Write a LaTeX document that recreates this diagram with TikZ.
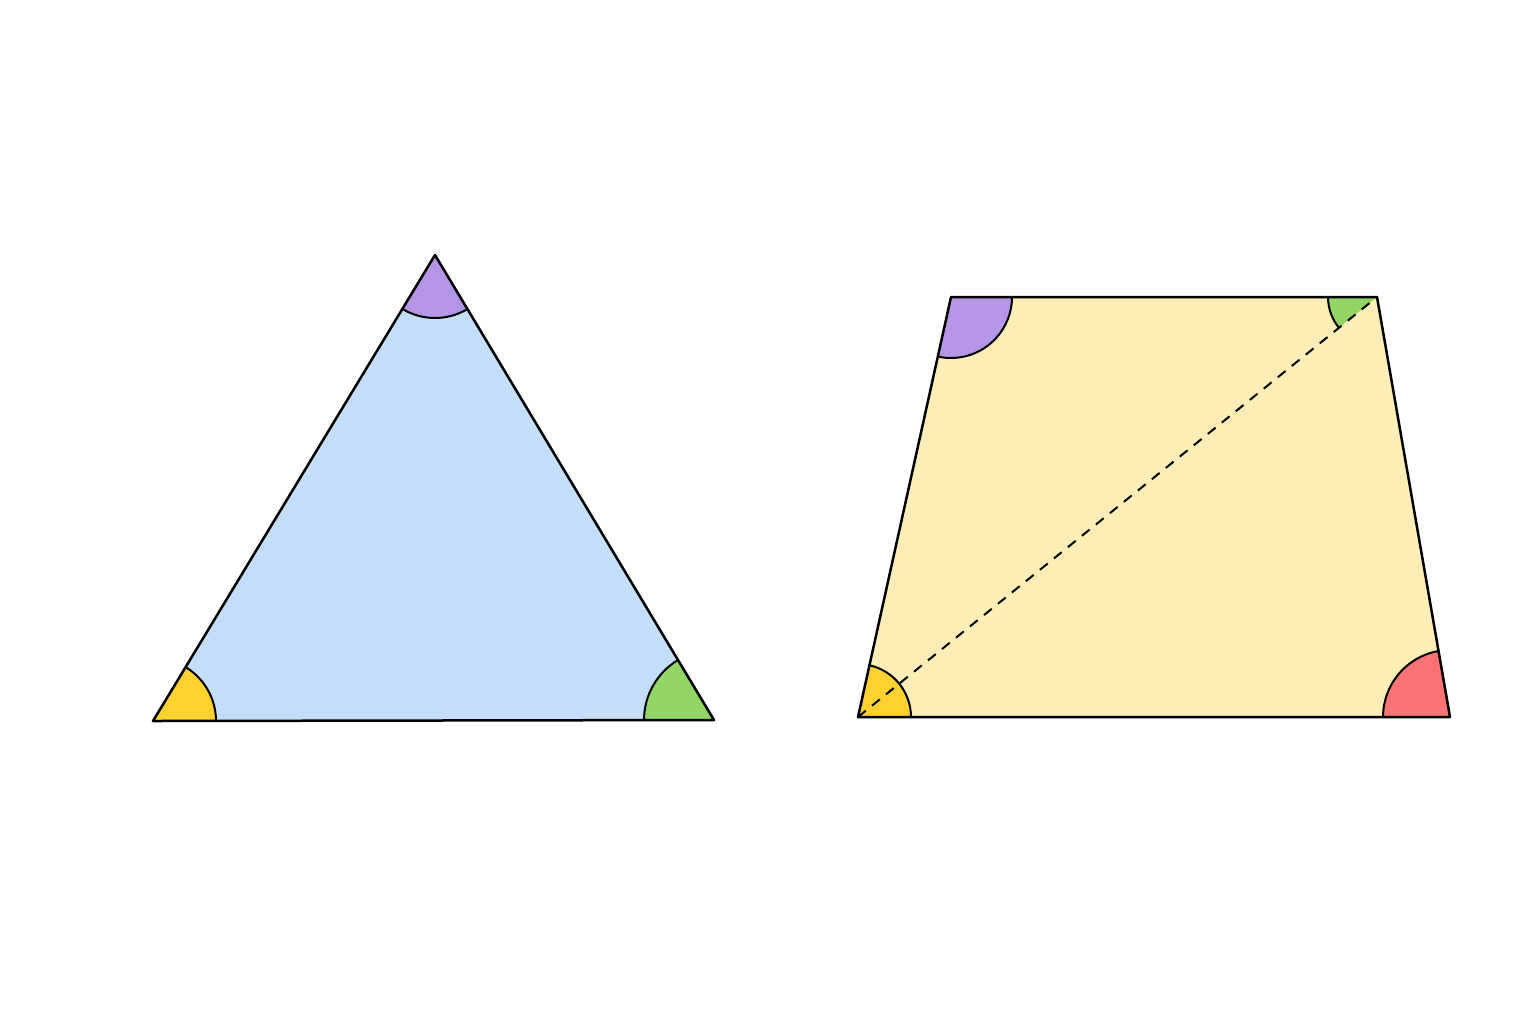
\documentclass[tikz,border=0pt]{standalone}
\usepackage{tikz}
\usetikzlibrary{angles}

\definecolor{triblue}{HTML}{C4DEF9}
\definecolor{quadcream}{HTML}{FDEDB6}
\definecolor{angyellow}{HTML}{FDD12E}
\definecolor{angpurple}{HTML}{B595E6}
\definecolor{anggreen}{HTML}{93D565}
\definecolor{angred}{HTML}{F87373}

\tikzset{
  edge/.style={line width=1.25pt,line join=round},
  wedge/.style={draw,line width=1pt,angle radius=#1},
  diag/.style={line width=1pt,dash pattern=on 5pt off 4pt}
}

\begin{document}
\begin{tikzpicture}[x=0.5pt,y=-0.5pt]
\useasboundingbox (0,0) rectangle (1536,1024);

%Shape: Triangle
\coordinate (tA) at (153,721);
\coordinate (tB) at (435,255);
\coordinate (tC) at (714,720);
\fill[triblue] (tA) -- (tB) -- (tC) -- cycle;
\pic[wedge=31.5pt,fill=angyellow] {angle=tC--tA--tB};
\pic[wedge=31.5pt,fill=angpurple] {angle=tA--tB--tC};
\pic[wedge=35pt,fill=anggreen] {angle=tB--tC--tA};
\draw[edge] (tA) -- (tB) -- (tC) -- cycle;

%Shape: Quadrilateral
\coordinate (qP) at (858,717);
\coordinate (qQ) at (951,297);
\coordinate (qR) at (1377,297);
\coordinate (qS) at (1450,717);
\fill[quadcream] (qP) -- (qQ) -- (qR) -- (qS) -- cycle;
\pic[wedge=26.5pt,fill=angyellow] {angle=qS--qP--qQ};
\pic[wedge=30.5pt,fill=angpurple] {angle=qP--qQ--qR};
\pic[wedge=24.5pt,fill=anggreen] {angle=qQ--qR--qP};
\pic[wedge=33.5pt,fill=angred] {angle=qR--qS--qP};

%Straight Lines: diagonal
\draw[diag] (qP) -- (qR);
\draw[edge] (qP) -- (qQ) -- (qR) -- (qS) -- cycle;

\end{tikzpicture}
\end{document}
